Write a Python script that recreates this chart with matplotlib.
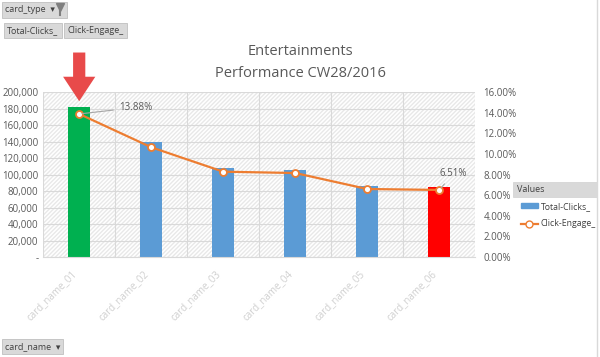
import numpy as np
import matplotlib.pyplot as plt
from matplotlib.ticker import FuncFormatter
from matplotlib.lines import Line2D
from matplotlib.patches import Patch, Rectangle

# data
cards = ["card_name_01", "card_name_02", "card_name_03", "card_name_04", "card_name_05", "card_name_06"]
total_clicks = [182000, 139000, 108000, 106000, 86000, 85500]
click_engage = [13.88, 10.65, 8.28, 8.15, 6.60, 6.51]
bar_colors = ["#00B050", "#5B9BD5", "#5B9BD5", "#5B9BD5", "#5B9BD5", "#FF0000"]

plt.rcParams['font.family'] = ['Open Sans', 'DejaVu Sans']
grey = "#595959"

fig = plt.figure(figsize=(6, 3.57), dpi=100)
ax = fig.add_axes([0.072, 0.28, 0.72, 0.462])
x = np.arange(len(cards))

ax.set_facecolor("white")
ax.add_patch(plt.Rectangle((0, 0), 1, 1, transform=ax.transAxes, facecolor="none",
                           edgecolor="#E8E8E8", hatch="////////", lw=0, zorder=0))
for b in np.arange(-0.5, len(cards), 1):
    ax.axvline(b, color="#D9D9D9", lw=0.8, zorder=1)
ax.set_axisbelow(True)
ax.grid(axis="y", color="#D9D9D9", lw=0.8)

ax.bar(x, total_clicks, width=0.3, color=bar_colors, zorder=2)
ax.set_xlim(-0.5, len(cards) - 0.5)
ax.set_ylim(0, 200000)
ax.set_yticks(np.arange(0, 200001, 20000))
ax.yaxis.set_major_formatter(FuncFormatter(lambda v, p: "-" if v == 0 else f"{v:,.0f}"))
ax.set_xticks(x)
ax.set_xticklabels(cards, rotation=45, ha="right", color="#D0D0D0", fontsize=7)
ax.tick_params(axis="x", length=0, pad=8)
ax.tick_params(axis="y", length=0, labelsize=7, colors=grey)
for s in ax.spines.values():
    s.set_visible(False)
ax.spines["bottom"].set_visible(True)
ax.spines["bottom"].set_color("#D9D9D9")

ax2 = ax.twinx()
ax2.plot(x, click_engage, color="#ED7D31", lw=1.6, marker="o", ms=5,
         mfc="white", mec="#ED7D31", mew=1.3, zorder=3)
ax2.set_ylim(0, 16)
ax2.set_yticks(np.arange(0, 16.01, 2))
ax2.yaxis.set_major_formatter(FuncFormatter(lambda v, p: f"{v:.2f}%"))
ax2.tick_params(axis="y", length=0, labelsize=7, colors=grey, pad=6)
for s in ax2.spines.values():
    s.set_visible(False)

ax2.annotate(f"{click_engage[0]:.2f}%", xy=(x[0], click_engage[0]), xytext=(x[0] + 0.55, 14.5),
             fontsize=7, color=grey, va="center",
             arrowprops=dict(arrowstyle="-", color="#A6A6A6", lw=0.8))
ax2.annotate(f"{click_engage[-1]:.2f}%", xy=(x[-1], click_engage[-1]), xytext=(x[-1] + 0.2, 8.1),
             fontsize=7, color=grey, ha="center", va="center",
             arrowprops=dict(arrowstyle="-", color="#A6A6A6", lw=0.8))

# big red arrow over the top card
ax.annotate("", xy=(x[0], 189000), xytext=(x[0], 248000), annotation_clip=False,
            arrowprops=dict(arrowstyle="simple,head_length=1.1,head_width=1.45,tail_width=0.55",
                            mutation_scale=16, color="#E84A4A", lw=0, shrinkA=0, shrinkB=0))

fig.text(0.5, 0.845, "Entertainments", ha="center", fontsize=10.5, color=grey)
fig.text(0.5, 0.785, "Performance CW28/2016", ha="center", fontsize=10.5, color=grey)

btn = dict(boxstyle="square,pad=0.35", fc="#D9D9D9", ec="#BFBFBF", lw=0.6)
fig.text(0.008, 0.972, "card_type  \u25be    ", fontsize=6.5, color="#404040", va="center", bbox=btn)
# filter funnel icon on the card_type button
fig.add_artist(Line2D([0.1], [0.98], marker="v", ms=6, color="#7F7F7F",
                      transform=fig.transFigure, zorder=10))
fig.add_artist(Line2D([0.1, 0.1], [0.958, 0.975], color="#7F7F7F", lw=1.5,
                      transform=fig.transFigure, zorder=10))
fig.text(0.012, 0.915, "Total-Clicks_", fontsize=6.5, color="#404040", va="center", bbox=btn)
fig.text(0.112, 0.915, "Click-Engage_", fontsize=6.5, color="#404040", va="center", bbox=btn)
fig.text(0.008, 0.03, "card_name  \u25be", fontsize=6.5, color="#404040", va="center", bbox=btn)

# legend with its "Values" header
fig.add_artist(Rectangle((0.855, 0.448), 0.14, 0.042, transform=fig.transFigure,
                         fc="#D9D9D9", ec="#D0D0D0", lw=0.5))
fig.text(0.862, 0.469, "Values", fontsize=6.5, color="#404040", va="center")
handles = [Patch(color="#5B9BD5"),
           Line2D([], [], color="#ED7D31", lw=1.6, marker="o", ms=5, mfc="white", mec="#ED7D31")]
fig.legend(handles, ["Total-Clicks_", "Click-Engage_"], loc="upper left",
           bbox_to_anchor=(0.862, 0.445), frameon=False, fontsize=6.3,
           labelcolor="#404040", handlelength=2.0, handleheight=0.5, handletextpad=0.3,
           labelspacing=1.0, borderaxespad=0)

fig.add_artist(Line2D([0.995, 0.995], [0, 1], color="#D9D9D9", lw=1))

fig.savefig("out.png", dpi=100)
